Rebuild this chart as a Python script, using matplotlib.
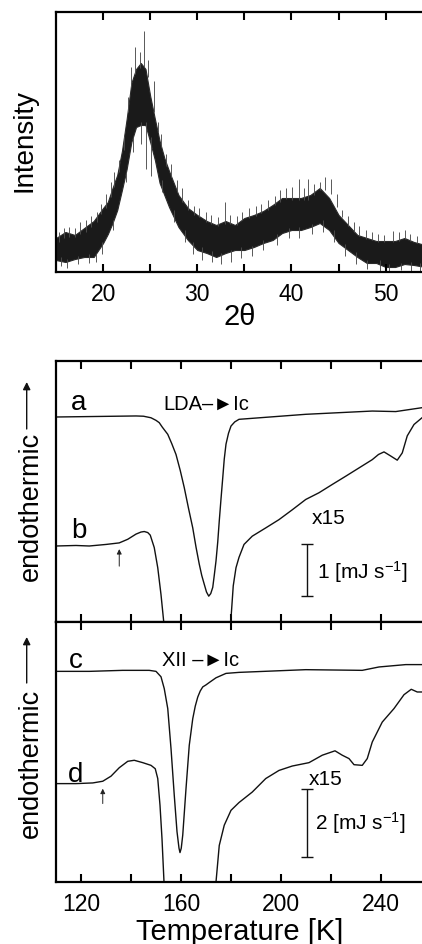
import matplotlib
matplotlib.use('Agg')
import matplotlib.pyplot as plt
from matplotlib.patches import FancyArrowPatch

plt.rcParams['font.family'] = ['Liberation Sans', 'DejaVu Sans']
plt.rcParams['mathtext.fontset'] = 'custom'
plt.rcParams['mathtext.rm'] = 'Liberation Sans'
plt.rcParams['mathtext.it'] = 'Liberation Sans:italic'
plt.rcParams['mathtext.bf'] = 'Liberation Sans:bold'

# ---------------- XRD data (band of the noisy trace, arbitrary units) -------------
two_theta = [15, 16, 17, 18, 19, 20, 20.5, 21, 21.5, 22, 22.5, 23, 23.5, 24, 24.5, 25,
             25.5, 26, 26.5, 27, 28, 29, 30, 31, 32, 33, 34, 35, 36, 37, 38, 39, 40,
             41, 42, 43, 44, 45, 46, 47, 48, 49, 50, 51, 52, 53, 54.2]
int_low = [12, 10, 13, 15, 15, 29, 38, 49, 62, 82, 103, 130, 145, 147, 147, 130,
           112, 89, 77, 65, 45, 32, 22, 19, 15, 19, 22, 22, 25, 29, 32, 39, 42,
           42, 45, 49, 42, 29, 22, 15, 9, 9, 5, 5, 8, 7, 5]
int_high = [34, 40, 37, 44, 51, 64, 70, 84, 97, 121, 153, 189, 203, 209, 203, 176,
            153, 131, 114, 101, 77, 64, 57, 51, 47, 51, 47, 54, 57, 61, 67, 74, 74,
            74, 77, 84, 74, 57, 47, 37, 34, 31, 31, 31, 34, 30, 27]
up_theta = [15.3, 15.8, 16.4, 17.0, 17.6, 18.2, 18.7, 19.3, 19.8, 20.3, 20.8, 21.2,
            21.7, 22.2, 22.6, 23.0, 23.4, 23.9, 24.38, 24.8, 25.4, 25.8, 26.2, 26.7,
            27.2, 27.8, 28.4, 29.0, 29.6, 30.2, 30.9, 31.5, 32.2, 32.9, 33.5, 34.2,
            34.8, 35.5, 36.2, 36.8, 37.5, 38.2, 38.8, 39.4, 40.1, 40.76, 41.3, 41.75,
            42.4, 43.0, 43.6, 44.2, 44.8, 45.4, 46.0, 46.6, 47.2, 47.9, 48.5, 49.2,
            49.8, 50.8, 51.4, 52.0, 52.6, 53.3, 53.9]
up_base = [30, 34, 35, 35, 38, 40, 45, 50, 58, 64, 75, 85, 100, 122, 160, 185, 198,
           204, 205, 195, 160, 140, 125, 106, 95, 80, 70, 62, 57, 55, 50, 48, 46, 48,
           48, 47, 52, 54, 56, 59, 62, 67, 70, 73, 72, 72, 72, 72, 77, 82, 82, 78, 65,
           55, 46, 40, 36, 33, 32, 30, 30, 30, 31, 33, 31, 29, 26]
up_tip = [40, 44, 45, 44, 50, 52, 56, 60, 68, 78, 90, 100, 112, 136, 175, 205, 225,
          220, 241, 212, 191, 150, 138, 118, 108, 92, 84, 72, 66, 64, 60, 57, 55, 70,
          57, 56, 60, 64, 66, 68, 72, 76, 82, 84, 85, 93, 84, 93, 88, 90, 95, 93, 78,
          62, 56, 50, 46, 42, 40, 38, 37, 41, 40, 42, 38, 36, 33]
dn_theta = [15.5, 16.2, 17.3, 18.5, 19.2, 19.9, 21.0, 22.4, 23.2, 24.0, 24.6, 25.1,
            26.3, 27.5, 28.7, 29.5, 30.5, 31.6, 32.5, 33.6, 34.6, 35.8, 37.0, 38.5,
            39.7, 40.8, 42.2, 43.3, 44.5, 45.7, 46.8, 48.0, 49.4, 50.4, 51.6, 52.7, 53.6]
dn_base = [15, 13, 16, 18, 18, 30, 52, 100, 135, 150, 150, 135, 92, 62, 42, 30, 25,
           21, 19, 22, 25, 26, 32, 38, 44, 45, 48, 52, 42, 28, 20, 12, 12, 8, 9, 10, 9]
dn_tip = [6, 4, 8, 9, 10, 18, 42, 90, 120, 128, 103, 96, 80, 50, 30, 18, 12, 10, 8,
          10, 14, 16, 22, 27, 34, 34, 38, 40, 30, 16, 8, 3, 1, 1, 2, 0, 1]

# ---------------- DSC data (mJ/s) -------------
T_a = [110, 142, 145, 148, 150, 151.3, 152.5, 154.7, 156.3, 158, 159.7, 161.3, 163,
       164.7, 166, 167.3, 168.3, 169.3, 170.2, 171.1, 171.9, 172.7, 173.3, 174, 174.7,
       175.3, 176, 176.7, 177.3, 178, 179, 180, 181.5, 183.2, 209.9, 236.5, 245.9,
       256.4, 257.2]
y_a = [3.965, 3.985, 3.98, 3.95, 3.90, 3.855, 3.77, 3.63, 3.45, 3.24, 2.93, 2.6, 2.2,
       1.82, 1.45, 1.12, 0.9, 0.73, 0.58, 0.50, 0.55, 0.67, 0.9, 1.18, 1.55,
       1.95, 2.38, 2.79, 3.15, 3.44, 3.65, 3.79, 3.87, 3.92, 4.017, 4.08, 4.07,
       4.145, 4.15]

T_b = [110, 118, 123.3, 130, 135.3, 138.7, 142, 144, 145.3, 146.7, 147.7, 149.3,
       150.7, 152, 153.1, 154, 179, 179.9, 180.9, 182, 183.2, 185.2, 188.5, 193.9,
       199.2, 204.5, 209.9, 215.2, 220.5, 225.9, 231.2, 236.5, 239, 241.2, 243.9,
       246.5, 248.5, 250.5, 253.2, 256.4, 257.2]
y_b = [1.47, 1.48, 1.47, 1.50, 1.53, 1.60, 1.70, 1.74, 1.75, 1.73, 1.68, 1.44,
       1.05, 0.53, 0.0, -0.6, -0.6, 0.0, 0.7, 1.05, 1.25, 1.50, 1.66, 1.82,
       1.98, 2.17, 2.37, 2.50, 2.66, 2.82, 2.98, 3.14, 3.24, 3.29, 3.21,
       3.13, 3.27, 3.60, 3.82, 3.95, 3.97]

T_c = [110, 123.3, 136.7, 147.3, 150, 152, 153.3, 154.7, 156, 157.3, 158.4, 159.2,
       159.6, 160.1, 160.7, 162, 163.3, 164.7, 165.7, 166.7, 167.7, 168.7, 170,
       171.3, 174, 178, 183.2, 209.9, 232.5, 239.2, 249.9, 257.2]
y_c = [6.23, 6.23, 6.26, 6.26, 6.23, 6.07, 5.72, 5.13, 3.95, 2.57, 1.49, 1.0,
       0.87, 1.0, 1.39, 2.76, 4.04, 4.83, 5.2, 5.47, 5.65, 5.77, 5.83,
       5.90, 6.04, 6.17, 6.20, 6.28, 6.26, 6.36, 6.43, 6.43]

T_d = [110, 118, 124.7, 128.7, 132, 135.3, 138.7, 141.3, 144.7, 148, 149.7, 150.7,
       151.6, 152.4, 153.2, 154, 173.5, 174, 175.3, 177.3, 180, 183.2, 188.5, 193.9,
       199.2, 204.5, 211.2, 216.5, 221.6, 224.5, 227.2, 229.2, 232.5, 234.5, 236.5,
       240.5, 245.2, 249.2, 252.1, 254.5, 257.2]
y_d = [2.91, 2.91, 2.93, 2.98, 3.13, 3.38, 3.57, 3.60, 3.53, 3.45, 3.35, 3.06,
       2.27, 1.28, 0.0, -0.6, -0.6, 0.0, 1.08, 1.68, 2.12, 2.35, 2.66, 3.06,
       3.30, 3.43, 3.53, 3.75, 3.88, 3.75, 3.65, 3.47, 3.45, 3.65, 4.14,
       4.73, 5.13, 5.54, 5.70, 5.62, 5.62]

xrd_ticks = [20, 30, 40, 50]
xrd_minor = [25, 35, 45]
dsc_ticks = [120, 160, 200, 240]
dsc_minor = [140, 180, 220]

W, H = 422, 945
fig = plt.figure(figsize=(W / 100, H / 100), dpi=100)


def box(l, t, r, b):
    return [l / W, 1 - b / H, (r - l) / W, (b - t) / H]


ax1 = fig.add_axes(box(56, 13, 424, 273))
ax2 = fig.add_axes(box(56, 362, 424, 623))
ax3 = fig.add_axes(box(56, 623, 424, 883))

SP = 1.6
for ax in (ax1, ax2, ax3):
    for s in ax.spines.values():
        s.set_linewidth(SP)
    ax.set_yticks([])
    ax.tick_params(axis='x', which='both', direction='in', top=True, bottom=True,
                   width=1.5, labelsize=16.5, pad=7, length=5.5)

# ---- XRD panel
ax1.fill_between(two_theta, int_low, int_high, color='#1a1a1a', lw=0.8,
                 edgecolor='#2a2a2a')
ax1.vlines(up_theta, up_base, up_tip, color='#4d4d4d', lw=0.65)
ax1.vlines(dn_theta, dn_base, dn_tip, color='#4d4d4d', lw=0.65)
ax1.set_xlim(15, 54.07)
ax1.set_ylim(0, 260)
ax1.set_xticks(xrd_ticks)
ax1.set_xticks(xrd_minor, minor=True)
ax1.set_xlabel('2θ', fontsize=21, labelpad=-2)

# ---- DSC panels
for ax in (ax2, ax3):
    ax.set_xlim(110, 257.2)
    ax.set_xticks(dsc_ticks)
    ax.set_xticks(dsc_minor, minor=True)

ax2.set_ylim(0, 5.048)
ax3.set_ylim(0, 7.69)
ax2.tick_params(axis='x', labelbottom=False)

lc = '#111111'
ax2.plot(T_a, y_a, color=lc, lw=1.0)
ax2.plot(T_b, y_b, color=lc, lw=1.0)
ax3.plot(T_c, y_c, color=lc, lw=1.0)
ax3.plot(T_d, y_d, color=lc, lw=1.0)

ax3.set_xlabel('Temperature [K]', fontsize=21, labelpad=2)

# labels inside
ax2.text(116, 4.12, 'a', fontsize=20, ha='left', va='baseline')
ax2.text(116, 1.64, 'b', fontsize=20, ha='left', va='baseline')
ax2.text(152.9, 4.13, 'LDA\u2013\u25baIc', fontsize=14.5, ha='left', va='baseline')
ax2.text(212.3, 1.92, 'x15', fontsize=15, ha='left', va='baseline')
ax2.errorbar([210.3], [1.009], yerr=[[0.506], [0.506]], color=lc, lw=1.0,
             capsize=4.5, capthick=1.0)
ax2.text(214.5, 0.857, r'1 [mJ s$^{\mathregular{-1}}$]', fontsize=15,
         ha='left', va='baseline')
ax2.annotate('', xy=(135.3, 1.41), xytext=(135.3, 1.08),
             arrowprops=dict(arrowstyle='-|>', color='#222222', lw=0.7,
                             mutation_scale=7, shrinkA=0, shrinkB=0))

ax3.text(115, 6.36, 'c', fontsize=20, ha='left', va='baseline')
ax3.text(114.7, 3.0, 'd', fontsize=20, ha='left', va='baseline')
ax3.text(152.4, 6.44, 'XII \u2013\u25baIc', fontsize=14.5, ha='left', va='baseline')
ax3.text(211.2, 2.91, 'x15', fontsize=15, ha='left', va='baseline')
ax3.errorbar([210.3], [1.75], yerr=[[1.01], [1.01]], color=lc, lw=1.0,
             capsize=4.5, capthick=1.0)
ax3.text(213.6, 1.56, r'2 [mJ s$^{\mathregular{-1}}$]', fontsize=15,
         ha='left', va='baseline')
ax3.annotate('', xy=(128.7, 2.76), xytext=(128.7, 2.32),
             arrowprops=dict(arrowstyle='-|>', color='#222222', lw=0.7,
                             mutation_scale=7, shrinkA=0, shrinkB=0))

# y labels (figure pixel positions)
fig.text(25 / W, 1 - 141 / H, 'Intensity', rotation=90, fontsize=20,
         ha='center', va='center')
fig.text(31 / W, 1 - 506 / H, 'endothermic', rotation=90, fontsize=19.5,
         ha='center', va='center')
fig.text(31 / W, 1 - 763 / H, 'endothermic', rotation=90, fontsize=19.5,
         ha='center', va='center')
for (y0, y1) in ((430, 383), (684, 638)):
    fig.add_artist(FancyArrowPatch(
        (26.7 / W, 1 - y0 / H), (26.7 / W, 1 - y1 / H), transform=fig.transFigure,
        arrowstyle='-|>', mutation_scale=11, lw=1.0, color='#111111',
        shrinkA=0, shrinkB=0))

fig.savefig('out.png', dpi=100)
